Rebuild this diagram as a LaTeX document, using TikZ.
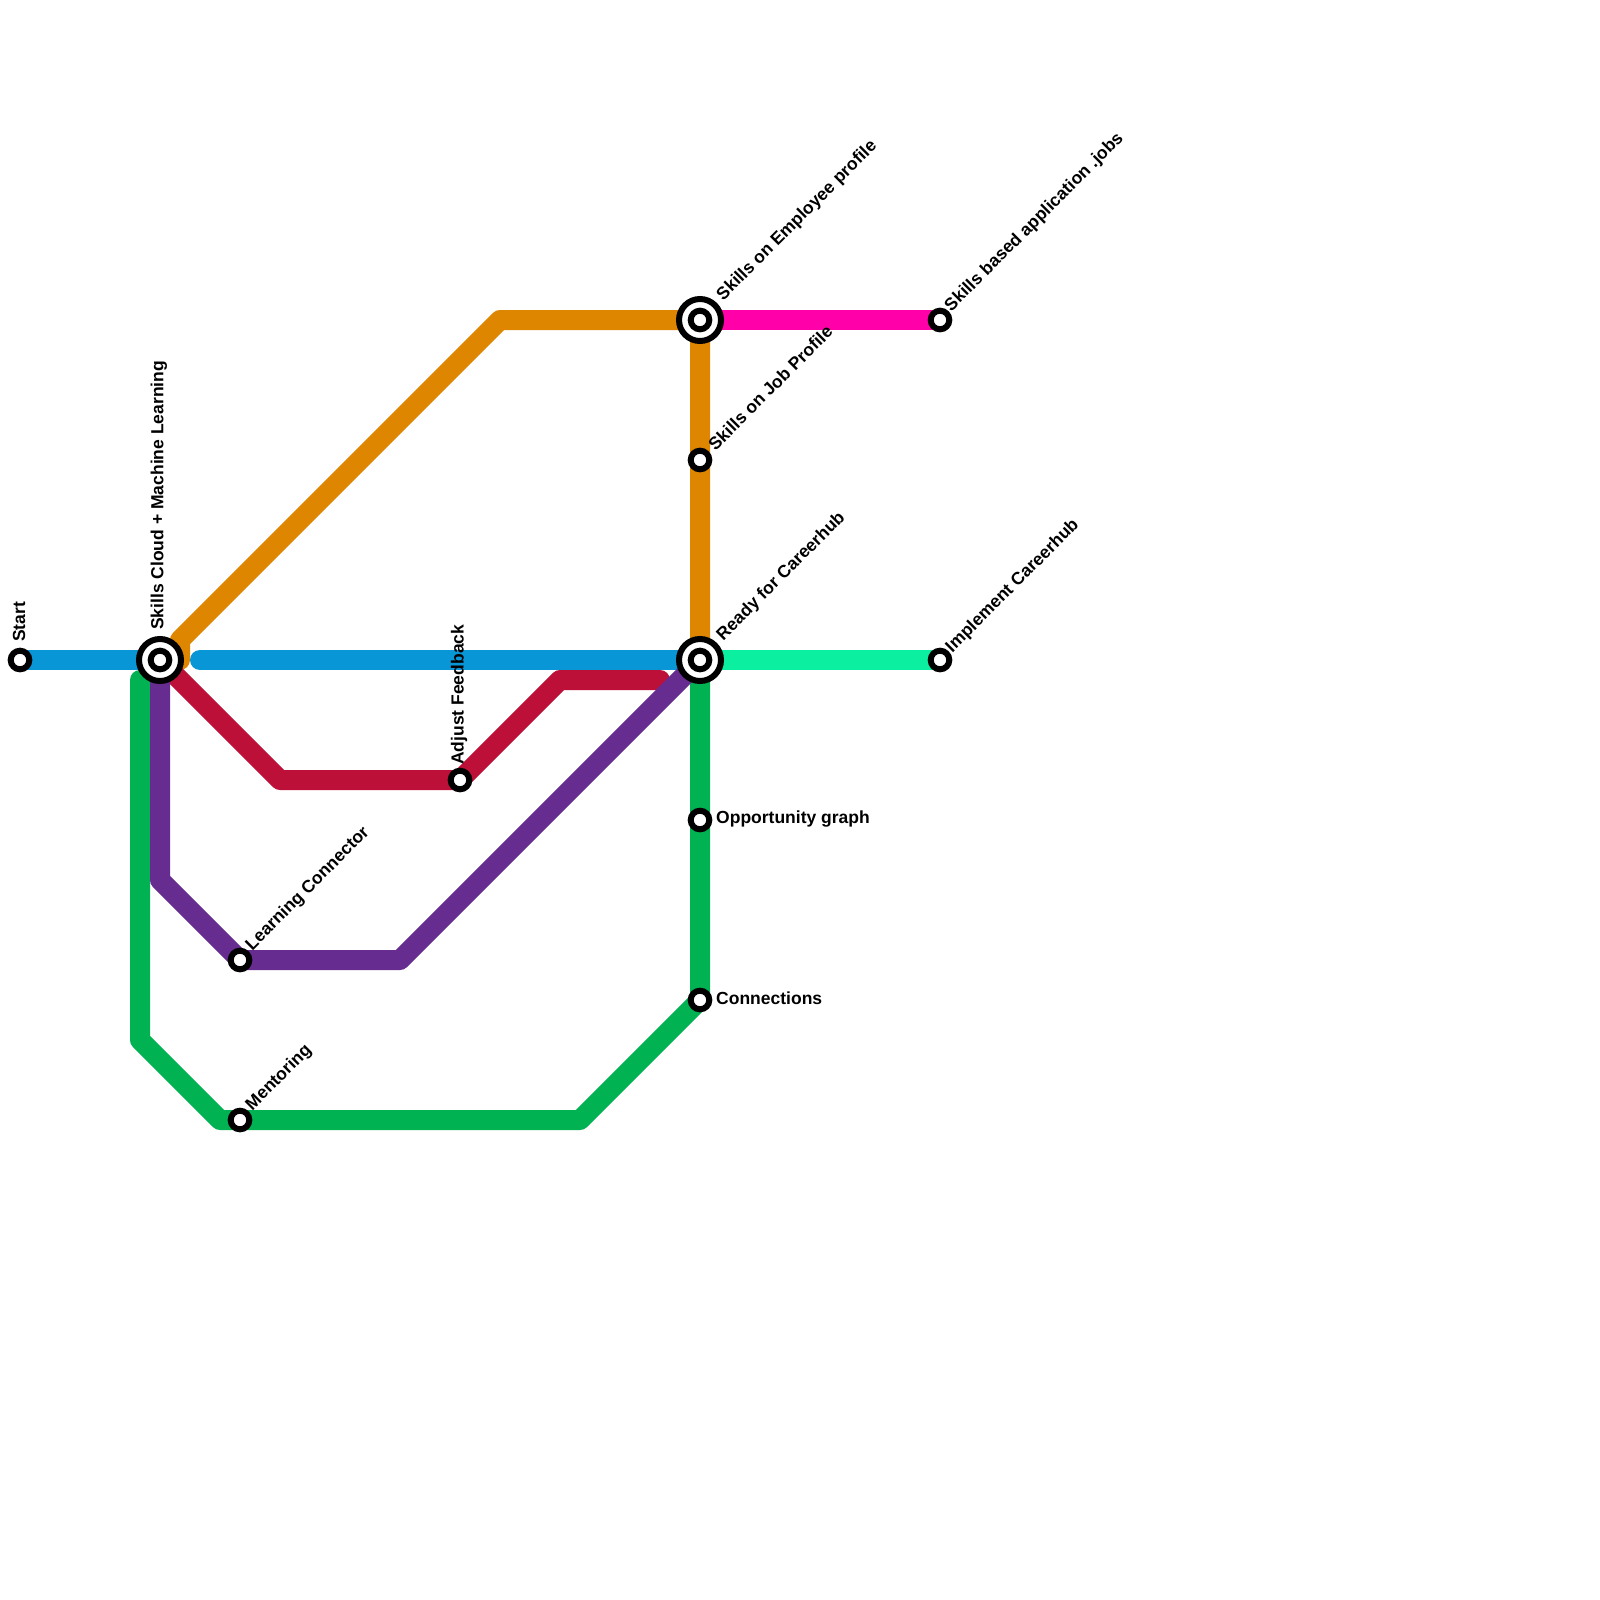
\documentclass[tikz,border=0pt]{standalone}
\usepackage{fontspec}
\setmainfont{Liberation Sans}[BoldFont={Liberation Sans Bold}]
\usetikzlibrary{backgrounds}
\definecolor{lblue}{HTML}{0896D7}
\definecolor{lorange}{HTML}{DF8600}
\definecolor{lred}{HTML}{BD1038}
\definecolor{lpurple}{HTML}{662C90}
\definecolor{lgreen}{HTML}{00B251}
\definecolor{lpink}{HTML}{FF00A9}
\definecolor{lteal}{HTML}{0BF0A0}
\tikzset{
 metro/.style={line width=20pt,line cap=round,line join=round},
 stn/.style={circle,draw=black,fill=white,line width=6pt,minimum size=18.6pt,inner sep=0pt},
 hub/.style={circle,draw=black,fill=white,line width=6pt,minimum size=42pt,inner sep=0pt},
 lbl/.style={inner sep=0pt,anchor=west,font=\bfseries\fontsize{17.5}{20}\selectfont,text=black},
 diag/.style={lbl,rotate=45},
 vert/.style={lbl,rotate=90}
}
\begin{document}
\begin{tikzpicture}[x=1pt,y=-1pt]
\useasboundingbox (0,0) rectangle (1600,1600);
% stations
\node[hub] (hubA) at (160,660) {};
\node[stn] (hubAi) at (160,660) {};
\node[hub] (hubB) at (700,320) {};
\node[stn] (hubBi) at (700,320) {};
\node[hub] (hubC) at (700,660) {};
\node[stn] (hubCi) at (700,660) {};
\node[stn] (start) at (20,660) {};
\node[stn] (jobs) at (940,320) {};
\node[stn] (impl) at (940,660) {};
\node[stn] (job) at (700,460) {};
\node[stn] (adj) at (460,780) {};
\node[stn] (learn) at (240,960) {};
\node[stn] (ment) at (240,1120) {};
\node[stn] (opp) at (700,820) {};
\node[stn] (conn) at (700,1000) {};
% bends
\coordinate (b1s) at (200,660);
\coordinate (o0) at (180,660);
\coordinate (o1) at (180,640);
\coordinate (o2) at (500,320);
\coordinate (r1) at (280,780);
\coordinate (r2) at (560,680);
\coordinate (r3) at (660,680);
\coordinate (p1) at (160,880);
\coordinate (p2) at (400,960);
\coordinate (g0) at (140,680);
\coordinate (g1) at (140,1040);
\coordinate (g2) at (220,1120);
\coordinate (g3) at (580,1120);
\begin{scope}[on background layer]
\draw[metro,lorange] (o0) -- (o1) -- (o2) -- (hubB.center) -- (job.center) -- (hubC.center);
\draw[metro,lblue] (start.center) -- (hubA.center);
\draw[metro,lblue] (b1s) -- (hubC.center);
\draw[metro,lpink] (hubB.center) -- (jobs.center);
\draw[metro,lteal] (hubC.center) -- (impl.center);
\draw[metro,lgreen] (g0) -- (g1) -- (g2) -- (ment.center) -- (g3) -- (conn.center) -- (opp.center) -- (hubC.center);
\draw[metro,lred] (hubA.center) -- (r1) -- (adj.center) -- (r2) -- (r3);
\draw[metro,lpurple] (hubA.center) -- (p1) -- (learn.center) -- (p2) -- (hubC.center);
\end{scope}
% labels
\node[vert] (tstart) at (19,642) {Start};
\node[vert] (thubA) at (159,630) {Skills Cloud + Machine Learning};
\node[vert] (tadj) at (459,765) {Adjust Feedback};
\node[diag] (thubB) at (720,298) {Skills on Employee profile};
\node[diag] (tjob) at (711,447) {Skills on Job Profile};
\node[diag] (thubC) at (720,638) {Ready for Careerhub};
\node[diag] (tjobs) at (948,309) {Skills based application .jobs};
\node[diag] (timpl) at (949,650) {Implement Careerhub};
\node[diag] (tlearn) at (249,948) {Learning Connector};
\node[diag] (tment) at (249,1108) {Mentoring};
\node[lbl] (topp) at (716,819) {Opportunity graph};
\node[lbl] (tconn) at (716,998) {Connections};
\end{tikzpicture}
\end{document}
